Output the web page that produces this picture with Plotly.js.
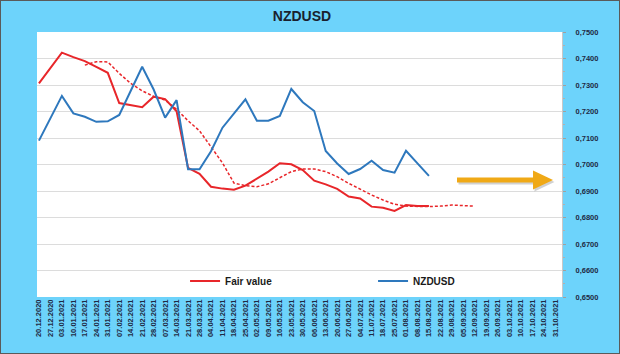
<!DOCTYPE html>
<html>
<head>
<meta charset="utf-8">
<script src="https://cdn.plot.ly/plotly-3.0.1.min.js"></script>
<style>
html,body{margin:0;padding:0;background:#6dd3fb;}
#chart{width:620px;height:354px;box-sizing:border-box;border:1px solid #5a5a5a;}
</style>
</head>
<body>
<div id="chart"></div>
<script>
const dates = ["20.12.2020","27.12.2020","03.01.2021","10.01.2021","17.01.2021","24.01.2021","31.01.2021","07.02.2021","14.02.2021","21.02.2021","28.02.2021","07.03.2021","14.03.2021","21.03.2021","28.03.2021","04.04.2021","11.04.2021","18.04.2021","25.04.2021","02.05.2021","09.05.2021","16.05.2021","23.05.2021","30.05.2021","06.06.2021","13.06.2021","20.06.2021","27.06.2021","04.07.2021","11.07.2021","18.07.2021","25.07.2021","01.08.2021","08.08.2021","15.08.2021","22.08.2021","29.08.2021","05.09.2021","12.09.2021","19.09.2021","26.09.2021","03.10.2021","10.10.2021","17.10.2021","24.10.2021","31.10.2021"];

const fairValue = [0.7306,0.7364,0.7422,0.7405,0.7390,0.7368,0.7346,0.7232,0.7225,0.7216,0.7256,0.7247,0.7201,0.6987,0.6965,0.6916,0.6909,0.6905,0.6920,0.6948,0.6973,0.7005,0.7001,0.6979,0.6939,0.6925,0.6908,0.6879,0.6872,0.6841,0.6837,0.6825,0.6847,0.6843,0.6843];

const nzdusd = [0.7090,0.7175,0.7259,0.7193,0.7180,0.7161,0.7163,0.7187,0.7279,0.7369,0.7283,0.7177,0.7243,0.6982,0.6982,0.7050,0.7139,0.7193,0.7246,0.7165,0.7165,0.7183,0.7285,0.7235,0.7202,0.7051,0.7004,0.6964,0.6983,0.7014,0.6979,0.6969,0.7052,0.7004,0.6957];

const fairTrend = [null,null,null,null,0.7375,0.7388,0.7387,0.7344,0.7306,0.7278,0.7257,0.7243,0.7208,0.7165,0.7127,0.7067,0.7006,0.6930,0.6920,0.6916,0.6927,0.6950,0.6973,0.6983,0.6983,0.6973,0.6954,0.6929,0.6906,0.6885,0.6866,0.6850,0.6843,0.6841,0.6841,0.6843,0.6847,0.6845,0.6843];

const yTicks = [0.65,0.66,0.67,0.68,0.69,0.70,0.71,0.72,0.73,0.74,0.75];

const RED = '#e8262a', BLUE = '#2e78bd';

const traces = [
  {x: dates.slice(0, fairTrend.length), y: fairTrend, type:'scatter', mode:'lines', showlegend:false,
   line:{color:RED, width:1.5, dash:'3px,2px'}, hoverinfo:'skip'},
  {x: dates.slice(0, fairValue.length), y: fairValue, type:'scatter', mode:'lines', name:'Fair value',
   line:{color:RED, width:2}},
  {x: dates.slice(0, nzdusd.length), y: nzdusd, type:'scatter', mode:'lines', name:'NZDUSD',
   line:{color:BLUE, width:2}}
];

// arrow in paper coordinates (plot area 525 x 265 px)
function px(x){return ((x-37)/525).toFixed(4);}
function py(y){return ((297-y)/265).toFixed(4);}
function arrowPath(dx, dy){
  const pts = [[457,177.6],[533,177.6],[533,170.5],[553,180],[533,189.5],[533,182.4],[457,182.4]];
  return 'M' + pts.map(p=>px(p[0]+dx)+','+py(p[1]+dy)).join(' L') + ' Z';
}

const layout = {
  width: 618, height: 352,
  margin: {l:36, r:57, t:31, b:56},
  paper_bgcolor: '#6dd3fb',
  plot_bgcolor: '#ffffff',
  separators: ',.',
  title: {text:'NZDUSD', font:{family:'Liberation Sans, Arial, sans-serif', size:14, weight:700, color:'#1a1f2e'},
          x:0.487, xref:'container', xanchor:'center', y:0.958, yref:'container', yanchor:'middle'},
  xaxis: {
    type:'category', categoryorder:'array', categoryarray: dates,
    range:[-0.17, 45.6], tickmode:'array', tickvals: dates, ticktext: dates,
    tickangle:-90, showgrid:false, zeroline:false, showline:false, ticks:'',
    tickfont:{family:'Liberation Sans, Arial, sans-serif', size:7.5, weight:700, color:'#1f2a44'},
    fixedrange:true
  },
  yaxis: {
    side:'right', range:[0.65, 0.75], tickvals: yTicks, tickformat:'.4f',
    showgrid:true, gridcolor:'#dcdcdc', gridwidth:1, zeroline:false,
    showline:true, linecolor:'#c8c8c8', linewidth:1, ticks:'outside', ticklen:3, tickcolor:'#a0a0a0',
    minor:{ticks:'outside', dtick:0.005, ticklen:2, tickcolor:'#b0b0b0', showgrid:false},
    ticklabelstandoff: 8,
    tickfont:{family:'Liberation Sans, Arial, sans-serif', size:7.5, weight:700, color:'#1f2a44'},
    fixedrange:true
  },
  legend: {
    orientation:'h', x:0.282, xanchor:'left', y:0.06, yanchor:'middle',
    bgcolor:'rgba(255,255,255,0)', entrywidth:143, entrywidthmode:'pixels',
    font:{family:'Liberation Sans, Arial, sans-serif', size:10, weight:700, color:'#1a1a1a'},
    traceorder:'normal'
  },
  shapes: [
    {type:'path', xref:'paper', yref:'paper', path: arrowPath(1.5,2), fillcolor:'rgba(0,0,0,0.18)', line:{width:0}},
    {type:'path', xref:'paper', yref:'paper', path: arrowPath(0,0), fillcolor:'#f0a916', line:{width:0}}
  ],
  showlegend:true
};

Plotly.newPlot('chart', traces, layout, {displayModeBar:false, staticPlot:true});
</script>
</body>
</html>
